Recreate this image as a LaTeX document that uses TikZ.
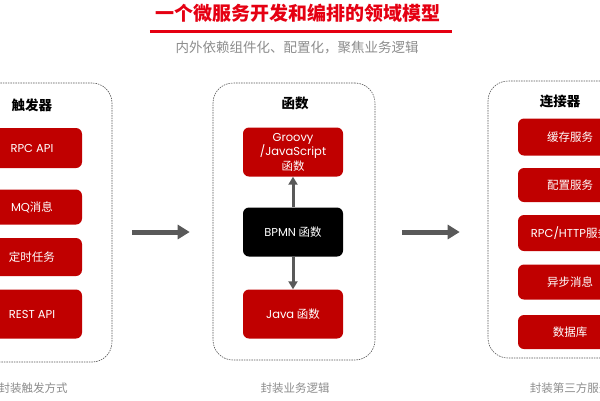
\documentclass[tikz,border=0pt]{standalone}
\usepackage{fontspec}
\setmainfont{Noto Sans CJK SC}
\newfontfamily\latin{Poppins}
\usepackage{xcolor}
\usetikzlibrary{arrows.meta}
\usetikzlibrary{positioning}

\definecolor{boxred}{HTML}{C00000}
\definecolor{titlered}{HTML}{E50012}
\definecolor{arrowgray}{HTML}{595959}
\definecolor{framegray}{HTML}{555555}
\definecolor{captiongray}{HTML}{8C8C8C}

\begin{document}
\begin{tikzpicture}[x=1pt, y=-1pt, every text node part/.style={align=center},
  dashframe/.style={draw=framegray, dash pattern=on 1.5pt off 1pt, line width=0.6pt, rounded corners=20pt, minimum width=162pt, inner sep=0pt},
  redbox/.style={fill=boxred, text=white, rounded corners=6pt, minimum width=100pt, inner sep=2pt, font=\fontsize{11.5}{14.5}\selectfont},
  columnhead/.style={font=\fontsize{13.5}{16}\selectfont\bfseries},
  undertext/.style={text=captiongray, font=\fontsize{11.5}{14}\selectfont},
  bigarrow/.style={draw=arrowgray, line width=5pt, -{Triangle[length=12pt, width=14pt]}},
  smallarrow/.style={draw=arrowgray, line width=3pt, -{Triangle[length=8pt, width=9pt]}}]
\useasboundingbox (0,0) rectangle (600,400);
\clip (0,0) rectangle (600,400);

\node (title) [text=titlered, font=\fontsize{19}{22}\selectfont\bfseries] at (298,13) {一个微服务开发和编排的领域模型};
\draw [titlered, line width=3pt] ([xshift=-2pt, yshift=-6pt]title.south west) -- ([xshift=8pt, yshift=-6pt]title.south east);
\node (subtitle) [text=captiongray, font=\fontsize{13.5}{16}\selectfont] at (297,48) {内外依赖组件化、配置化，聚焦业务逻辑};

\node (trigger frame) [dashframe, minimum height=279pt] at (31,222.5) {};
\node (trigger head) [columnhead] at (32,105) {触发器};
\node (rpc api) [redbox, minimum height=40pt] at (32,148) {{\latin RPC API}};
\node (mq) [redbox, minimum height=35pt, below of=rpc api, node distance=59pt] {{\latin MQ}消息};
\node (timer) [redbox, minimum height=38pt, below of=mq, node distance=50pt] {定时任务};
\node (rest api) [redbox, minimum height=49pt, below of=timer, node distance=57pt] {{\latin REST API}};
\node (trigger caption) [undertext] at (33,388) {封装触发方式};

\node (function frame) [dashframe, minimum height=277pt] at (294,221.5) {};
\node (function head) [columnhead] at (295,103) {函数};
\node (groovy) [redbox, minimum height=49pt] at (293,152) {{\latin Groovy}\\{\latin /JavaScript}\\函数};
\node (bpmn) [redbox, fill=black, minimum height=49pt, below of=groovy, node distance=80pt] {{\latin BPMN} 函数};
\node (java) [redbox, minimum height=49pt, below of=bpmn, node distance=82pt] {{\latin Java} 函数};
\node (function caption) [undertext] at (295,388) {封装业务逻辑};

\node (connector frame) [dashframe, minimum height=277pt] at (569,219.5) {};
\node (connector head) [columnhead] at (560,101) {连接器};
\node (cache) [redbox, minimum width=104pt, minimum height=37pt] at (570,137) {缓存服务};
\node (config) [redbox, minimum width=104pt, minimum height=34pt, below of=cache, node distance=48pt] {配置服务};
\node (rpc http) [redbox, minimum width=104pt, minimum height=36pt, below of=config, node distance=48pt] {{\latin RPC/HTTP}服务};
\node (async) [redbox, minimum width=104pt, minimum height=35pt, below of=rpc http, node distance=49pt] {异步消息};
\node (database) [redbox, minimum width=104pt, minimum height=34pt, below of=async, node distance=50pt] {数据库};
\node (connector caption) [undertext] at (570,388) {封装第三方服务};

\draw [bigarrow] ([xshift=20pt]trigger frame.east |- bpmn) -- ([xshift=-23pt]function frame.west |- bpmn);
\draw [bigarrow] ([xshift=27pt]function frame.east |- bpmn) -- ([xshift=-28pt]connector frame.west |- bpmn);
\draw [smallarrow] (bpmn) -- (groovy);
\draw [smallarrow] (bpmn) -- (java);

\end{tikzpicture}
\end{document}
